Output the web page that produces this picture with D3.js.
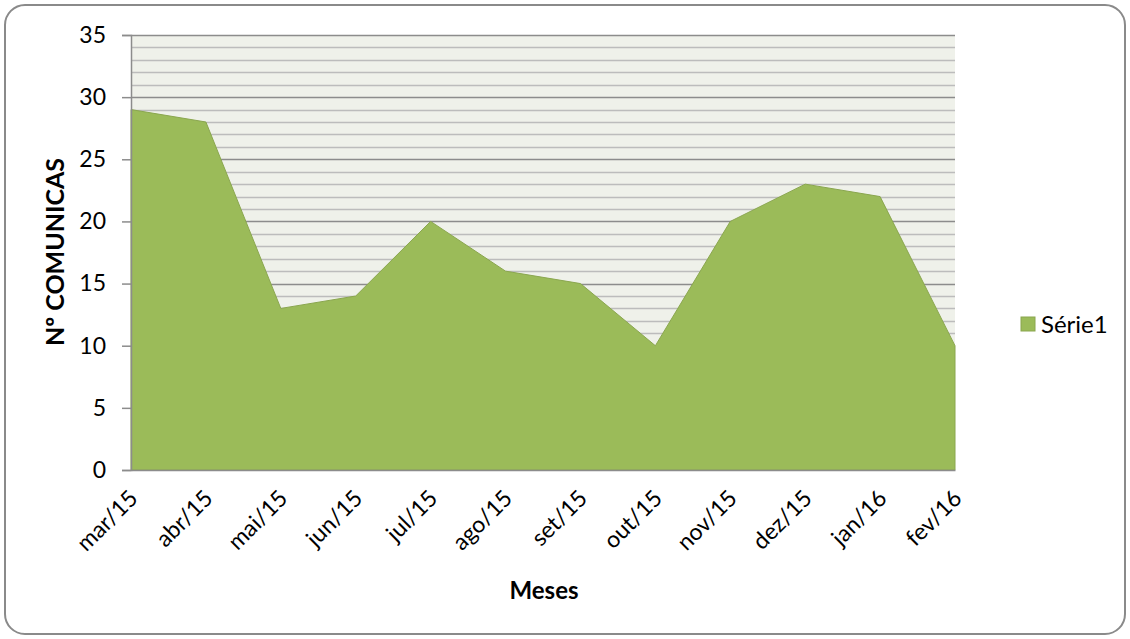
<!DOCTYPE html>
<html>
<head>
<meta charset="utf-8">
<script src="https://cdn.jsdelivr.net/npm/d3@7"></script>
<style>
  body { margin: 0; background: #fff; }
  text { font-family: Lato, "Open Sans", sans-serif; fill: #000; }
</style>
</head>
<body>
<script>
const months = ["mar/15", "abr/15", "mai/15", "jun/15", "jul/15", "ago/15",
  "set/15", "out/15", "nov/15", "dez/15", "jan/16", "fev/16"];
const serie1 = [29, 28, 13, 14, 20, 16, 15, 10, 20, 23, 22, 10];
const yTicks = [0, 5, 10, 15, 20, 25, 30, 35];
const seriesName = "Série1";

const width = 1130, height = 639;
const plotL = 131, plotR = 955, plotT = 35, plotB = 470;

const svg = d3.select("body").append("svg")
  .attr("width", width).attr("height", height);

// outer frame
svg.append("rect")
  .attr("x", 5).attr("y", 5)
  .attr("width", width - 10).attr("height", height - 10)
  .attr("rx", 20).attr("ry", 20)
  .attr("fill", "#fff").attr("stroke", "#8a8a8a").attr("stroke-width", 2);

const x = d3.scalePoint().domain(months).range([plotL, plotR]);
const y = d3.scaleLinear().domain([0, 35]).range([plotB, plotT]);

// plot background
svg.append("rect")
  .attr("x", plotL).attr("y", plotT)
  .attr("width", plotR - plotL).attr("height", plotB - plotT)
  .attr("fill", "#eff1ea");

// minor + major gridlines
const minor = d3.range(1, 35).filter(v => v % 5 !== 0);
svg.append("g").selectAll("line").data(minor).join("line")
  .attr("x1", plotL).attr("x2", plotR)
  .attr("y1", d => Math.round(y(d)) + 0.5).attr("y2", d => Math.round(y(d)) + 0.5)
  .attr("stroke", "#bcbcbc").attr("stroke-width", 1.5);
svg.append("g").selectAll("line").data(yTicks.slice(1)).join("line")
  .attr("x1", plotL).attr("x2", plotR)
  .attr("y1", d => Math.round(y(d)) + 0.5).attr("y2", d => Math.round(y(d)) + 0.5)
  .attr("stroke", "#8c8c8c").attr("stroke-width", 1.5);

// area
const area = d3.area()
  .x((d, i) => x(months[i]))
  .y0(y(0))
  .y1(d => y(d));
svg.append("path")
  .datum(serie1)
  .attr("d", area)
  .attr("fill", "#9bbb59")
  .attr("stroke", "#8aa64f")
  .attr("stroke-width", 1);

// y axis
const yAxis = svg.append("g")
  .attr("transform", `translate(${plotL},0)`)
  .call(d3.axisLeft(y).tickValues(yTicks).tickSize(9).tickPadding(16));
yAxis.select(".domain").attr("stroke", "#8c8c8c").attr("stroke-width", 1.5);
yAxis.selectAll(".tick line").attr("stroke", "#8c8c8c").attr("stroke-width", 1.5);
yAxis.selectAll(".tick text").style("font-size", "23px").attr("fill", "#000")
  .style("font-family", "Lato, 'Open Sans', sans-serif");

// x axis
const xAxis = svg.append("g")
  .attr("transform", `translate(0,${plotB})`)
  .call(d3.axisBottom(x).tickSize(0).tickPadding(0));
xAxis.select(".domain").attr("stroke", "#8c8c8c").attr("stroke-width", 1.5);
xAxis.selectAll(".tick text")
  .style("font-size", "23px").style("font-family", "Lato, 'Open Sans', sans-serif")
  .attr("fill", "#000")
  .attr("text-anchor", "end")
  .attr("y", 0)
  .attr("dy", "0.35em")
  .attr("transform", "translate(2,24) rotate(-45)");

// axis titles
svg.append("text")
  .attr("transform", `translate(64,252) rotate(-90)`)
  .attr("text-anchor", "middle")
  .style("font-size", "25px").style("font-weight", "bold")
  .text("Nº COMUNICAS");
svg.append("text")
  .attr("x", 544).attr("y", 599)
  .attr("text-anchor", "middle")
  .style("font-size", "24px").style("font-weight", "bold")
  .text("Meses");

// legend
const lg = svg.append("g").attr("transform", "translate(1021,317)");
lg.append("rect").attr("width", 14).attr("height", 14)
  .attr("fill", "#9bbb59").attr("stroke", "#8aa64f");
lg.append("text").attr("x", 20).attr("y", 16)
  .style("font-size", "24px").text(seriesName);
</script>
</body>
</html>
